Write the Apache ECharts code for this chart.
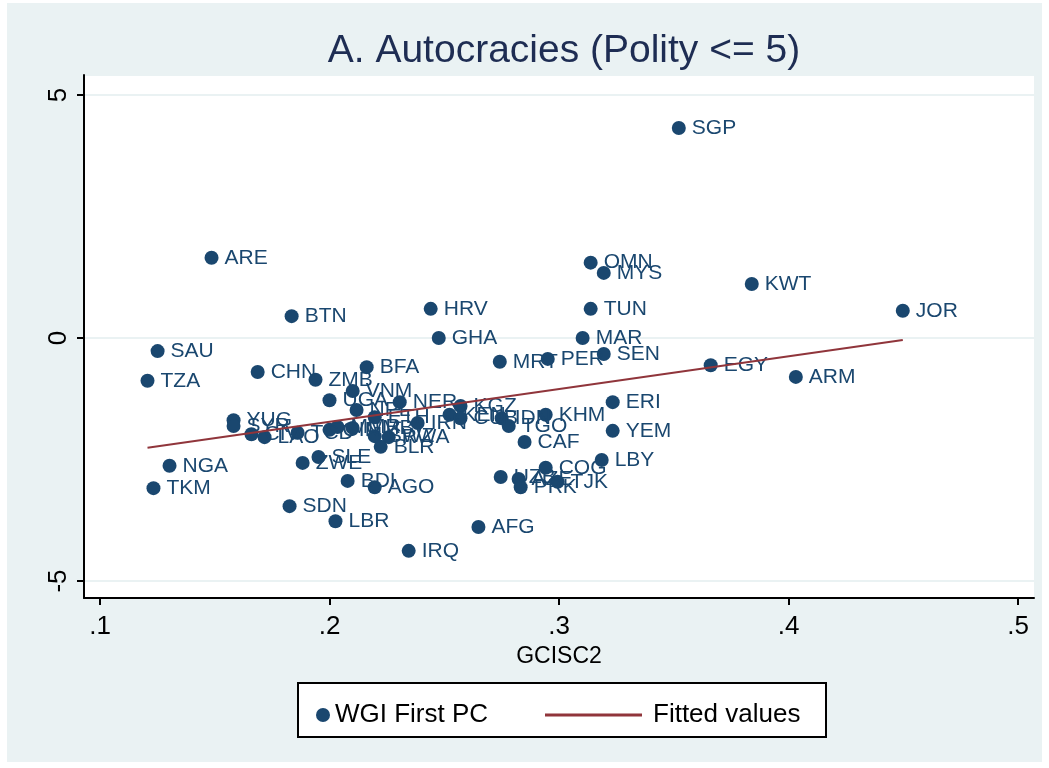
<!DOCTYPE html>
<html>
<head>
<meta charset="utf-8">
<script src="https://cdn.jsdelivr.net/npm/echarts@6/dist/echarts.min.js"></script>
<style>
html,body{margin:0;padding:0;background:#ffffff;}
#chart{width:1049px;height:768px;}
</style>
</head>
<body>
<div id="chart"></div>
<script>
// ---- data ----
const countries = ['SGP','ARE','OMN','MYS','KWT','HRV','TUN','JOR','BTN','GHA','MAR','SAU','SEN','PER','MRT','EGY','BFA','CHN','ARM','TZA','ZMB','VNM','UGA','NER','ERI','NPL','KGZ','KEN','CUB','IDN','TGO','KHM','ETH','IRN','YUG','SYR','CIV','LAO','TCD','GIN','MMR','GMB','SWZ','RWA','BLR','CAF','YEM','LBY','COG','SLE','ZWE','NGA','UZB','AZE','PRK','TJK','BDI','AGO','TKM','SDN','LBR','AFG','IRQ'];
const gcisc2 = [0.3522,0.1486,0.3138,0.3195,0.3840,0.2441,0.3138,0.4498,0.1835,0.2476,0.3103,0.1251,0.3195,0.2951,0.2742,0.3661,0.2162,0.1687,0.4032,0.1207,0.1939,0.2101,0.2000,0.2306,0.3234,0.2118,0.2571,0.2523,0.2571,0.2750,0.2781,0.2942,0.2197,0.2384,0.1582,0.1582,0.1660,0.1717,0.1861,0.2000,0.2035,0.2101,0.2197,0.2258,0.2223,0.2850,0.3234,0.3186,0.2942,0.1952,0.1883,0.1303,0.2746,0.2824,0.2833,0.2994,0.2079,0.2197,0.1233,0.1826,0.2026,0.2649,0.2345];
const wgiPC = [4.32,1.65,1.55,1.34,1.11,0.60,0.60,0.56,0.45,0.00,0.00,-0.27,-0.33,-0.43,-0.49,-0.56,-0.60,-0.70,-0.80,-0.88,-0.86,-1.09,-1.28,-1.32,-1.32,-1.48,-1.40,-1.58,-1.65,-1.65,-1.81,-1.58,-1.63,-1.75,-1.69,-1.81,-1.98,-2.04,-1.95,-1.89,-1.83,-1.85,-2.02,-2.04,-2.24,-2.14,-1.91,-2.51,-2.67,-2.45,-2.57,-2.63,-2.86,-2.90,-3.07,-2.96,-2.94,-3.07,-3.09,-3.46,-3.77,-3.89,-4.38];
const fitX = [0.1207, 0.4498];
const fitY = [-2.26, -0.04];
const xTicks = [0.1, 0.2, 0.3, 0.4, 0.5];
const yTicks = [-5, 0, 5];
const xTickLabels = ['.1', '.2', '.3', '.4', '.5'];

const NAVY = '#1a476f';
const RED = '#90353b';
const BG = '#eaf2f3';
const FONT = '"Liberation Sans", Arial, sans-serif';

const chart = echarts.init(document.getElementById('chart'), null, {renderer: 'canvas'});

const scatterData = countries.map((c, i) => ({name: c, value: [gcisc2[i], wgiPC[i]]}));
const fitData = fitX.map((x, i) => [x, fitY[i]]);

const option = {
  backgroundColor: '#ffffff',
  animation: false,
  title: {
    text: 'A. Autocracies (Polity <= 5)',
    left: 559, top: 27, textAlign: 'center',
    textStyle: {fontFamily: FONT, fontSize: 39, fontWeight: 'normal', color: '#1e2d53'}
  },
  graphic: [
    {type: 'rect', z: -10, shape: {x: 7, y: 3, width: 1035, height: 759}, style: {fill: BG}},
    {type: 'rect', z: 5, shape: {x: 298, y: 683, width: 528, height: 54}, style: {fill: '#ffffff', stroke: '#000000', lineWidth: 2}}
  ],
  legend: [
    {
      data: [{name: 'WGI First PC', icon: 'circle'}],
      left: 311, top: 697, itemWidth: 14, itemHeight: 14, itemGap: 10, z: 10,
      textStyle: {fontFamily: FONT, fontSize: 26, color: '#000'},
      selectedMode: false
    },
    {
      data: [{name: 'Fitted values', icon: 'rect'}],
      left: 540, top: 697, itemWidth: 97, itemHeight: 3, z: 10,
      textStyle: {fontFamily: FONT, fontSize: 26, color: '#000', padding: [0, 0, 0, 6]},
      selectedMode: false
    }
  ],
  grid: [
    {left: 84, right: 15, top: 75, bottom: 170, show: true, backgroundColor: '#ffffff', borderWidth: 0, z: 0},
    {left: 100, right: 31, top: 95, bottom: 187, show: false}
  ],
  xAxis: [
    {
      gridIndex: 0, type: 'value', min: 0.0928, max: 0.507,
      axisLine: {show: true, onZero: false, lineStyle: {color: '#000', width: 2}},
      axisTick: {show: false}, axisLabel: {show: false}, splitLine: {show: false}
    },
    {
      gridIndex: 1, type: 'value', min: 0.1, max: 0.5, interval: 0.1, offset: 17,
      axisLine: {show: false, onZero: false},
      axisTick: {show: true, length: 7, lineStyle: {color: '#000', width: 2}},
      axisLabel: {fontFamily: FONT, fontSize: 26, color: '#000', margin: 16,
        formatter: v => { const i = xTicks.findIndex(t => Math.abs(t - v) < 1e-9); return i >= 0 ? xTickLabels[i] : ''; }},
      splitLine: {show: false},
      name: 'GCISC2', nameLocation: 'middle', nameGap: 44,
      nameTextStyle: {fontFamily: FONT, fontSize: 23, color: '#000'}
    }
  ],
  yAxis: [
    {
      gridIndex: 0, type: 'value', min: -5.35, max: 5.41, minInterval: 5, maxInterval: 5,
      axisLine: {show: true, onZero: false, lineStyle: {color: '#000', width: 2}},
      axisTick: {show: false}, axisLabel: {show: false},
      splitLine: {show: true, lineStyle: {color: BG, width: 2}}
    },
    {
      gridIndex: 1, type: 'value', min: yTicks[0], max: yTicks[2], interval: 5, offset: 16,
      axisLine: {show: false, onZero: false},
      axisTick: {show: true, length: 7, lineStyle: {color: '#000', width: 2}},
      axisLabel: {fontFamily: FONT, fontSize: 26, color: '#000', rotate: 90, margin: 12},
      splitLine: {show: false}
    }
  ],
  series: [
    {
      name: 'WGI First PC', type: 'scatter', xAxisIndex: 1, yAxisIndex: 1,
      symbol: 'circle', symbolSize: 14, z: 3,
      itemStyle: {color: NAVY, opacity: 1},
      label: {show: true, position: 'right', distance: 6, offset: [0, 2],
        formatter: p => p.name, fontFamily: FONT, fontSize: 21, color: NAVY},
      labelLayout: {hideOverlap: false},
      data: scatterData
    },
    {
      name: 'Fitted values', type: 'line', xAxisIndex: 1, yAxisIndex: 1,
      symbol: 'none', showSymbol: false, z: 4,
      lineStyle: {color: RED, width: 2}, itemStyle: {color: RED},
      data: fitData
    }
  ]
};
chart.setOption(option);
</script>
</body>
</html>
